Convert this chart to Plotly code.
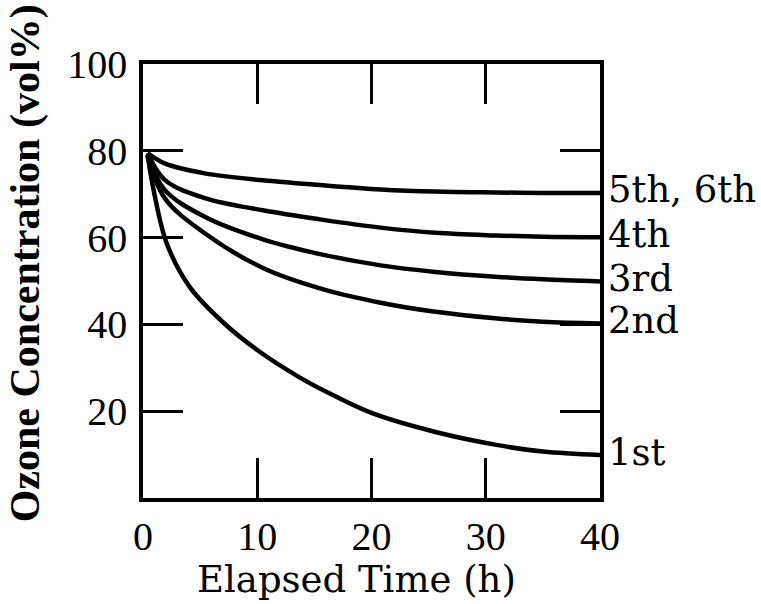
import plotly.graph_objects as go

# Data
x_1st = [0.4, 1.0, 2.1, 4.1, 7, 10, 13.7, 16.4, 20, 25.6, 30.8, 35, 40]
v_1st = [79, 70, 58.5, 48.6, 40.5, 34.1, 27.8, 24.0, 19.6, 15.2, 12.3, 10.7, 9.9]

x_2nd = [0.4, 1.9, 5.4, 10.5, 15.5, 20.8, 25.6, 30.8, 35, 40]
v_2nd = [79, 69.1, 61, 53, 48.3, 45, 42.9, 41.4, 40.6, 40.2]

x_3rd = [0.4, 1.9, 5.4, 10.5, 15.5, 20.8, 25.6, 30.8, 35, 40]
v_3rd = [79, 71, 64.8, 59.6, 56.2, 53.6, 52.1, 51, 50.4, 49.9]

x_4th = [0.4, 1.9, 5.4, 10.5, 15.5, 20.8, 25.6, 30.8, 35, 40]
v_4th = [79.5, 73.3, 69.1, 66.3, 64.2, 62.3, 61.1, 60.5, 60.2, 60.1]

x_5th = [0.4, 1.9, 5.4, 10.5, 15.5, 20.8, 25.6, 30.8, 35, 40]
v_5th = [79.5, 77.1, 74.8, 73.2, 72.1, 71.1, 70.6, 70.4, 70.3, 70.3]

series_labels = ["1st", "2nd", "3rd", "4th", "5th, 6th"]
x_ticks = [0, 10, 20, 30, 40]
y_ticks = [20, 40, 60, 80, 100]

FONT = "Liberation Serif"
FONT2 = "DejaVu Serif"

fig = go.Figure()
series = [(x_1st, v_1st), (x_2nd, v_2nd), (x_3rd, v_3rd), (x_4th, v_4th), (x_5th, v_5th)]
for (xs, vs), name in zip(series, series_labels):
    fig.add_trace(go.Scatter(x=xs, y=vs, mode="lines", name=name,
                             line=dict(color="black", width=4.5, shape="spline", smoothing=1.0),
                             showlegend=False, cliponaxis=False))
    fig.add_annotation(x=xs[-1], y=vs[-1], text=name, xref="x", yref="y",
                       xanchor="left", yanchor="middle", xshift=6, yshift=3,
                       showarrow=False, font=dict(family=FONT2, size=37, color="black"))

fig.add_annotation(text="Elapsed Time (h)", xref="paper", yref="paper",
                   x=0.468, y=-0.187, xanchor="center", yanchor="middle",
                   showarrow=False, font=dict(family=FONT2, size=37, color="black"))
fig.add_annotation(text="<b>Ozone Concentration (vol%)</b>", xref="paper", yref="paper",
                   x=-0.258, y=0.541, xanchor="center", yanchor="middle", textangle=-90,
                   showarrow=False, font=dict(family=FONT, size=42, color="black"))

axis_common = dict(showgrid=False, zeroline=False, showline=True, linecolor="black",
                   linewidth=3.5, mirror="ticks", ticks="inside", ticklen=40,
                   tickwidth=3, tickcolor="black",
                   tickfont=dict(family=FONT, size=40, color="black"))

fig.update_xaxes(range=[0, 40], tickvals=x_ticks, ticklabelstandoff=0, **axis_common)
fig.update_yaxes(range=[0, 100], tickvals=y_ticks, ticklabelstandoff=4, **axis_common)

fig.update_layout(width=761, height=604, margin=dict(l=143, r=161, t=64, b=106),
                  paper_bgcolor="white", plot_bgcolor="white")

fig.write_html("out.html", config={"displayModeBar": False},
               post_script="document.body.style.margin='0';")
